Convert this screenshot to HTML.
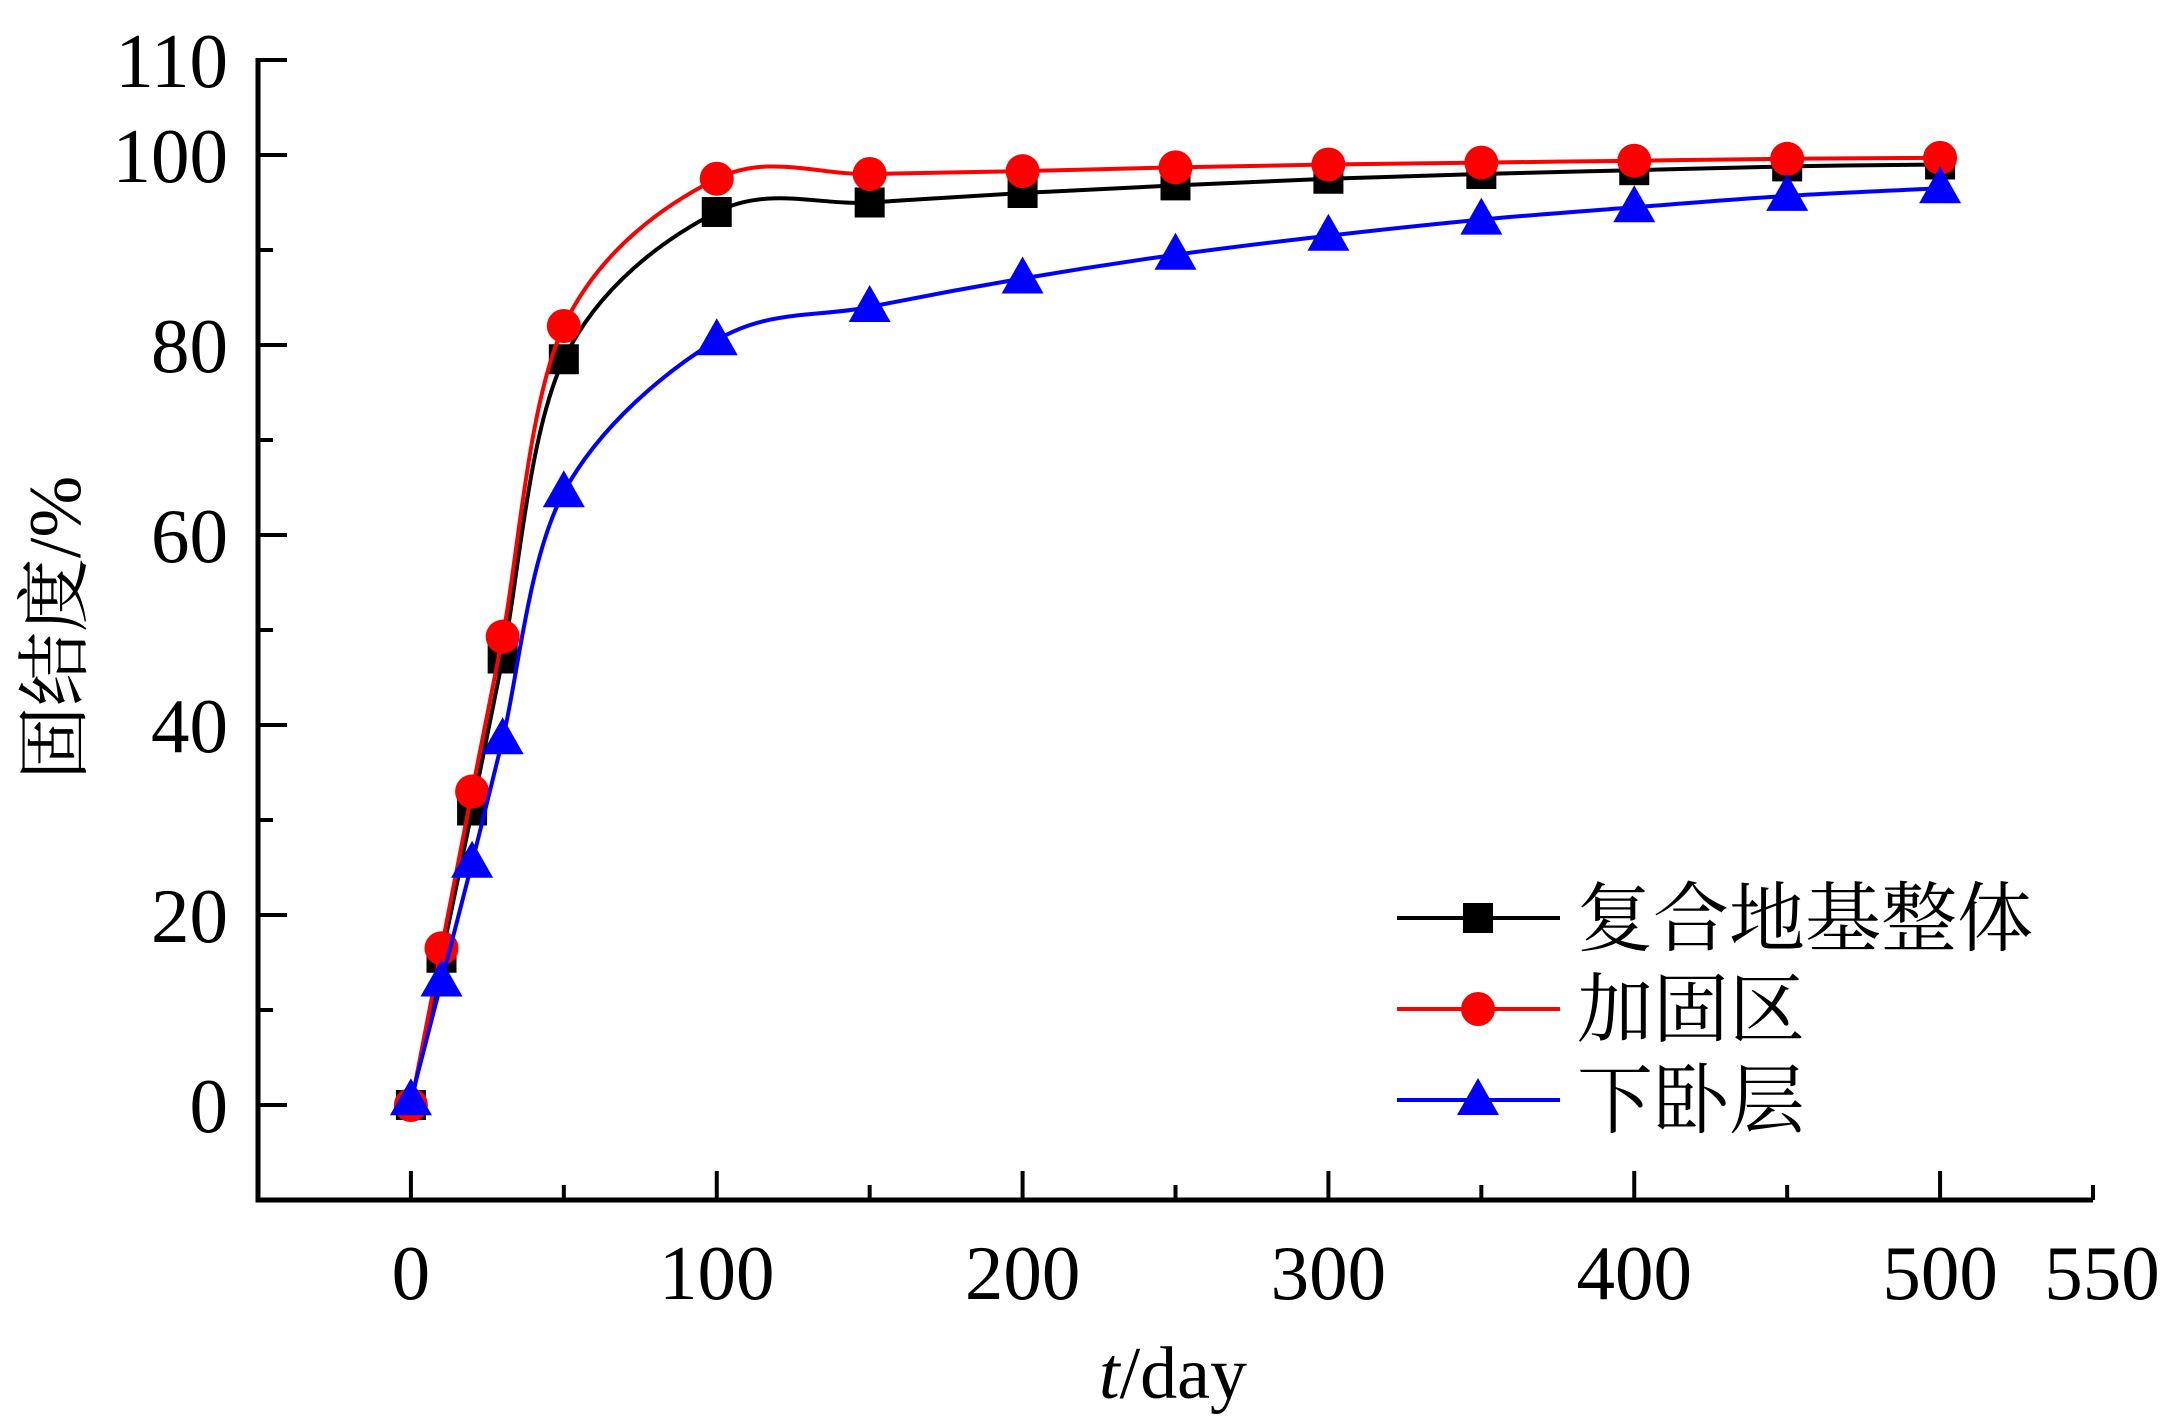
<!DOCTYPE html>
<html><head><meta charset="utf-8"><style>
html,body{margin:0;padding:0;background:#fff;}
svg{display:block;}
text{font-family:"Liberation Serif","Noto Serif CJK SC",serif;fill:#000;}
</style></head><body>
<svg id="chart" width="2164" height="1422" viewBox="0 0 2164 1422" xmlns="http://www.w3.org/2000/svg">
<g id="plot"></g>
</svg>
<script>
const days = [0,10,20,30,50,100,150,200,250,300,350,400,450,500];
const seriesWhole = [0,15.5,31,47,78.5,94,95,96,96.8,97.5,98,98.4,98.8,99];
const seriesReinforced = [0,16.5,33,49.3,82,97.5,98,98.3,98.7,99,99.2,99.4,99.6,99.7];
const seriesUnderlying = [0.5,13,25.5,38.5,64.5,80.5,84,87,89.5,91.5,93.2,94.5,95.7,96.5];
const xTicks = [0,100,200,300,400,500,550];
const yTicks = [0,20,40,60,80,100,110];
const legendLabels = ["复合地基整体","加固区","下卧层"];

const NS="http://www.w3.org/2000/svg";
const g=document.getElementById('plot');
const X0=258,X1=2093,Y0=1200,Y1=60;
const xMin=-50,xMax=550,yMin=-10,yMax=110;
const sx=v=>X0+(v-xMin)/(xMax-xMin)*(X1-X0);
const sy=v=>Y0-(v-yMin)/(yMax-yMin)*(Y0-Y1);
function mk(tag,attrs){const e=document.createElementNS(NS,tag);for(const k in attrs)e.setAttribute(k,attrs[k]);g.appendChild(e);return e;}

let a=mk('path',{d:`M${X0},${Y1-2}V${Y0}H${X1}`,fill:'none',stroke:'#000','stroke-width':5});


for(let v=-10;v<=110;v+=10){
  const major=(v%20===0&&v!==-10)||v===110;
  const t=mk('line',{x1:X0,x2:X0+(major?29:15),y1:sy(v),y2:sy(v),stroke:'#000','stroke-width':4});
  
  
}
yTicks.forEach(v=>{
  const t=mk('text',{x:228,y:sy(v)+27,'text-anchor':'end','font-size':77});
  t.textContent=v;
  
  
});
for(let v=0;v<=550;v+=50){
  const major=v%100===0;
  const t=mk('line',{x1:sx(v),x2:sx(v),y1:Y0,y2:Y0-(major?29:15),stroke:'#000','stroke-width':4});
  
  
}
xTicks.forEach(v=>{
  const t=mk('text',{x:v===550?2102:sx(v),y:1299,'text-anchor':'middle','font-size':77});
  t.textContent=v;
  
  
});
let xt=mk('text',{x:1173,y:1398,'text-anchor':'middle','font-size':74});
xt.innerHTML='<tspan font-style="italic">t</tspan>/day';


let yt=mk('text',{x:0,y:0,'text-anchor':'middle','font-size':74,transform:'translate(80,628) rotate(-90)'});
yt.textContent='固结度/%';



function smooth(xs,ys){
  const p=xs.map((x,i)=>[sx(x),sy(ys[i])]);
  let d=`M${p[0][0]},${p[0][1]}`;
  for(let i=0;i<p.length-1;i++){
    const p0=p[i-1]||p[i],p1=p[i],p2=p[i+1],p3=p[i+2]||p[i+1];
    const c1=[p1[0]+(p2[0]-p0[0])/6,p1[1]+(p2[1]-p0[1])/6];
    const c2=[p2[0]-(p3[0]-p1[0])/6,p2[1]-(p3[1]-p1[1])/6];
    d+=`C${c1[0]},${c1[1]} ${c2[0]},${c2[1]} ${p2[0]},${p2[1]}`;
  }
  return d;
}
function marker(type,x,y,color){
  let e;
  if(type==='square')e=mk('rect',{x:x-15,y:y-15,width:30,height:30,fill:color});
  else if(type==='circle')e=mk('circle',{cx:x,cy:y,r:17,fill:color});
  else e=mk('path',{d:`M${x},${y-22}L${x+21},${y+15}L${x-21},${y+15}Z`,fill:color});
  return e;
}
const series=[[seriesWhole,'#000','square','whole'],[seriesReinforced,'#f00','circle','reinforced'],[seriesUnderlying,'#00f','triangle','underlying']];
series.forEach(([vals,col,type,nm])=>{
  const l=mk('path',{d:smooth(days,vals),fill:'none',stroke:col,'stroke-width':4});
  
  
  days.forEach((d,i)=>{
    const m=marker(type,sx(d),sy(vals[i]),col);
    
    
  });
});
series.forEach(([vals,col,type,nm],i)=>{
  const y=918+i*91;
  const l=mk('line',{x1:1397,x2:1560,y1:y,y2:y,stroke:col,'stroke-width':4});
  
  
  const m=marker(type,1478,y,col);
  
  
  const t=mk('text',{x:1577,y:y+27,'font-size':76});
  t.textContent=legendLabels[i];
  
  
});
</script>
</body></html>
